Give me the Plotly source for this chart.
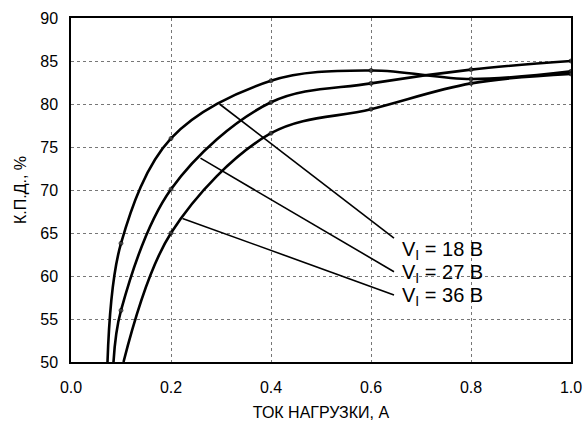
import plotly.graph_objects as go

# Efficiency vs. load current for three input voltages
load_18 = [0.073, 0.1, 0.2, 0.4, 0.6, 0.8, 1.0]
eff_18 = [50.0, 63.8, 76.0, 82.7, 83.9, 82.9, 83.8]

load_27 = [0.085, 0.1, 0.2, 0.4, 0.6, 0.8, 1.0]
eff_27 = [50.0, 56.0, 70.1, 80.2, 82.4, 84.0, 85.0]

load_36 = [0.105, 0.2, 0.4, 0.6, 0.8, 1.0]
eff_36 = [50.0, 65.0, 76.6, 79.4, 82.4, 83.5]

# Callouts: anchor point on each curve -> end of leader line, and text position
labels = ["V<sub>I</sub> = 18 В", "V<sub>I</sub> = 27 В", "V<sub>I</sub> = 36 В"]
anchor_x = [0.297, 0.259, 0.223]
anchor_y = [80.0, 73.7, 66.7]
end_x = [0.646, 0.646, 0.646]
end_y = [64.4, 60.5, 57.8]
text_y = [63.0, 60.3, 57.6]

FONT = "Arial, Liberation Sans"

fig = go.Figure()

for xs, ys in [(load_18, eff_18), (load_27, eff_27), (load_36, eff_36)]:
    sizes = [0 if y <= 50 else 4 for y in ys]
    fig.add_trace(go.Scatter(
        x=xs, y=ys, mode="lines+markers",
        line=dict(color="black", width=2.6, shape="spline", smoothing=1.0),
        marker=dict(size=sizes, color="#555555"),
        showlegend=False, hoverinfo="skip",
    ))

for ax, ay, ex, ey, ty, txt in zip(anchor_x, anchor_y, end_x, end_y, text_y, labels):
    fig.add_trace(go.Scatter(
        x=[ax, ex], y=[ay, ey], mode="lines",
        line=dict(color="black", width=1.6),
        showlegend=False, hoverinfo="skip",
    ))
    fig.add_annotation(
        x=ex, y=ty, text=txt, showarrow=False,
        xanchor="left", yanchor="middle", xshift=6,
        font=dict(family=FONT, size=20, color="black"),
    )

axis_common = dict(
    showline=True, linecolor="black", linewidth=1.5, mirror=True,
    showgrid=True, gridcolor="#777777", gridwidth=1, griddash="3px,3px",
    zeroline=False, ticks="", automargin=False,
    tickfont=dict(family=FONT, size=16, color="black"),
)

fig.update_xaxes(
    range=[0, 1.0], dtick=0.2, tickformat=".1f", ticklabelstandoff=10,
    title=dict(text="ТОК НАГРУЗКИ, А", standoff=12,
               font=dict(family=FONT, size=16, color="black")),
    **axis_common,
)
fig.update_yaxes(
    range=[50, 90], dtick=5, ticklabelstandoff=8,
    title=dict(text="К.П.Д., %", standoff=10,
               font=dict(family=FONT, size=16, color="black")),
    **axis_common,
)

fig.update_layout(
    width=584, height=424,
    margin=dict(l=71, r=13, t=18, b=62),
    plot_bgcolor="white", paper_bgcolor="white",
)

fig.write_html("out.html")
